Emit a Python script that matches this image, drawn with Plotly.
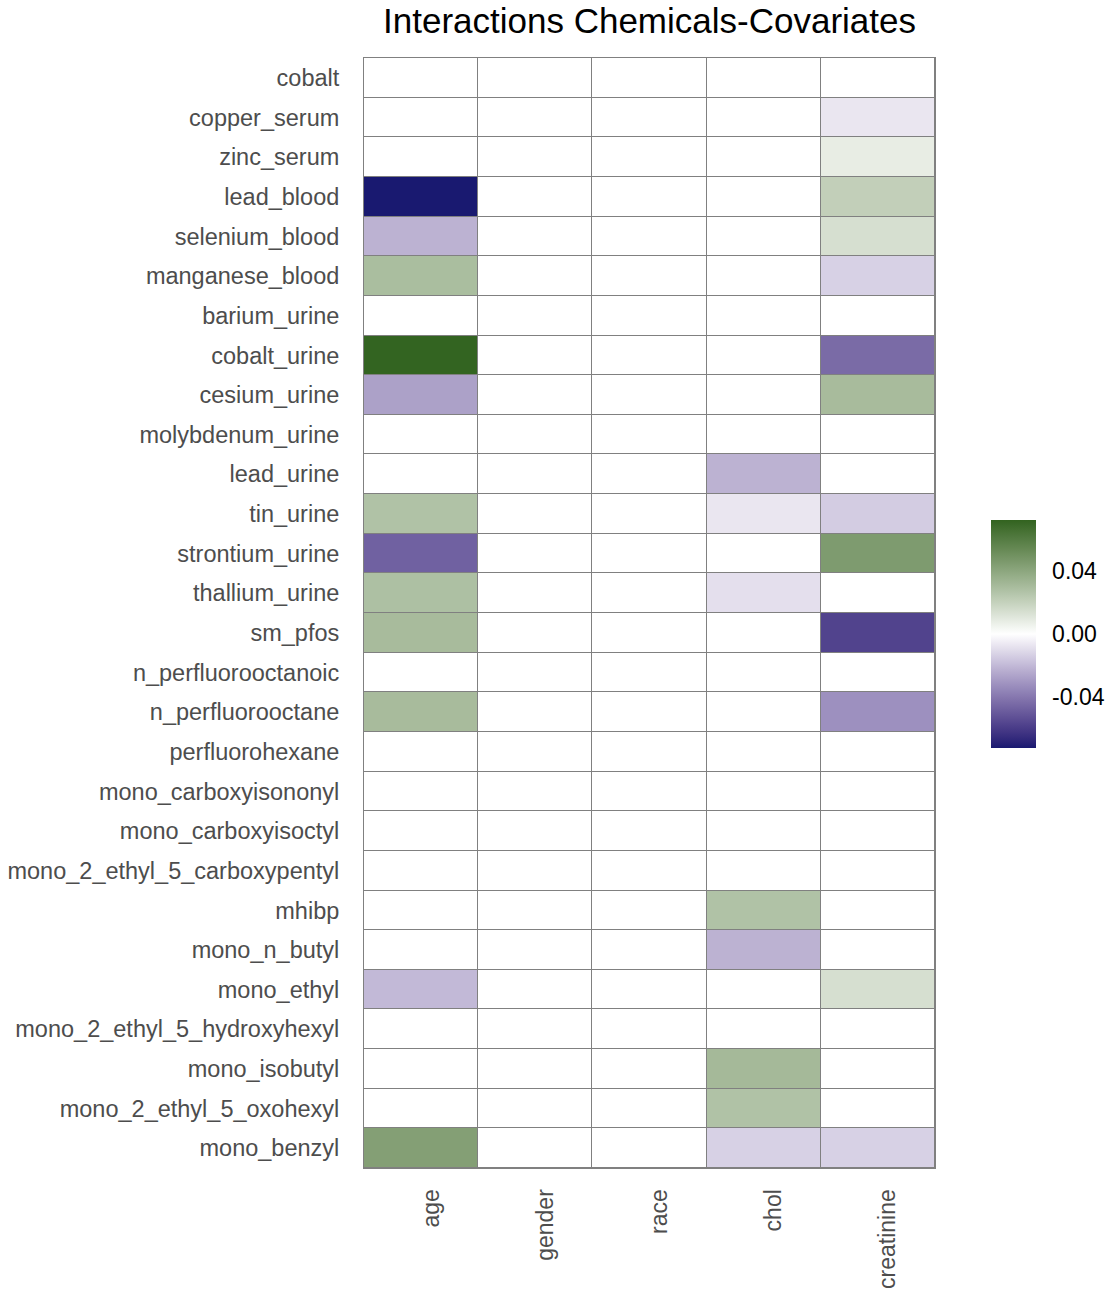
import plotly.graph_objects as go
import numpy as np

chemicals = ["cobalt", "copper_serum", "zinc_serum", "lead_blood", "selenium_blood",
             "manganese_blood", "barium_urine", "cobalt_urine", "cesium_urine",
             "molybdenum_urine", "lead_urine", "tin_urine", "strontium_urine",
             "thallium_urine", "sm_pfos", "n_perfluorooctanoic", "n_perfluorooctane",
             "perfluorohexane", "mono_carboxyisononyl", "mono_carboxyisoctyl",
             "mono_2_ethyl_5_carboxypentyl", "mhibp", "mono_n_butyl", "mono_ethyl",
             "mono_2_ethyl_5_hydroxyhexyl", "mono_isobutyl", "mono_2_ethyl_5_oxohexyl",
             "mono_benzyl"]
covariates = ["age", "gender", "race", "chol", "creatinine"]

age_vals = [0, 0, 0, -0.072, -0.022, 0.029, 0, 0.0715, -0.027, 0, 0, 0.027, -0.047, 0.028,
            0.030, 0, 0.030, 0, 0, 0, 0, 0, 0, -0.020, 0, 0, 0, 0.043]
gender_vals = [0] * 28
race_vals = [0] * 28
chol_vals = [0, 0, 0, 0, 0, 0, 0, 0, 0, 0, -0.022, -0.007, 0, -0.009,
             0, 0, 0, 0, 0, 0, 0, 0.027, -0.022, 0, 0, 0.031, 0.027, -0.013]
creatinine_vals = [0, -0.007, 0.008, 0.021, 0.014, -0.013, 0, -0.044, 0.030, 0, 0, -0.0145,
                   0.045, 0, -0.057, 0, -0.032, 0, 0, 0, 0, 0, 0, 0.014, 0, 0, 0, -0.013]

cols = [age_vals, gender_vals, race_vals, chol_vals, creatinine_vals]
z = [[cols[j][i] for j in range(len(covariates))] for i in range(len(chemicals))]

LOW, MID, HIGH = "#191970", "#ffffff", "#32631f"
ZLIM = 0.072


def hex2rgb(h):
    h = h.lstrip("#")
    return np.array([int(h[i:i + 2], 16) for i in (0, 2, 4)], dtype=float)


WN = np.array([0.95047, 1.0, 1.08883])
M = np.array([[0.4124, 0.3576, 0.1805], [0.2126, 0.7152, 0.0722], [0.0193, 0.1192, 0.9505]])
MI = np.linalg.inv(M)


def rgb2lab(rgb):
    c = rgb / 255.0
    c = np.where(c <= 0.04045, c / 12.92, ((c + 0.055) / 1.055) ** 2.4)
    xyz = M @ c / WN
    f = np.where(xyz > 0.008856, np.cbrt(xyz), 7.787 * xyz + 16 / 116)
    return np.array([116 * f[1] - 16, 500 * (f[0] - f[1]), 200 * (f[1] - f[2])])


def lab2rgb(lab):
    fy = (lab[0] + 16) / 116
    fx = fy + lab[1] / 500
    fz = fy - lab[2] / 200
    f = np.array([fx, fy, fz])
    xyz = np.where(f ** 3 > 0.008856, f ** 3, (f - 16 / 116) / 7.787) * WN
    c = MI @ xyz
    c = np.clip(c, 0, 1)
    c = np.where(c <= 0.0031308, 12.92 * c, 1.055 * c ** (1 / 2.4) - 0.055)
    return np.clip(np.round(c * 255), 0, 255).astype(int)


lab_low, lab_mid, lab_high = rgb2lab(hex2rgb(LOW)), rgb2lab(hex2rgb(MID)), rgb2lab(hex2rgb(HIGH))
colorscale = []
N = 40
for i in range(N + 1):
    p = i / N
    t = 2 * p - 1
    end = lab_high if t >= 0 else lab_low
    lab = lab_mid + abs(t) * (end - lab_mid)
    r, g, b = lab2rgb(lab)
    colorscale.append([p, f"rgb({r},{g},{b})"])

FONT = "Liberation Sans, Arial, sans-serif"

fig = go.Figure(go.Heatmap(
    z=z, x=covariates, y=chemicals,
    colorscale=colorscale, zmin=-ZLIM, zmax=ZLIM,
    xgap=1, ygap=1,
    colorbar=dict(
        thickness=45, len=228, lenmode="pixels",
        x=1.098, xanchor="left", y=0.481, yanchor="middle",
        xpad=0, ypad=0,
        outlinewidth=0,
        tickvals=[-0.04, 0, 0.04], ticktext=["-0.04", "0.00", "0.04"],
        ticks="outside", ticklen=12, tickcolor="rgba(0,0,0,0)",
        tickfont=dict(family=FONT, size=23, color="#000000"),
    ),
))

fig.update_layout(
    width=1120, height=1296,
    margin=dict(l=364, r=185, t=58, b=128, autoexpand=False),
    paper_bgcolor="white", plot_bgcolor="#808080",
    title=dict(text="Interactions Chemicals-Covariates", x=0.5, xref="paper", xanchor="center",
               y=1 - 21 / 1296, yref="container", yanchor="middle",
               font=dict(family=FONT, size=35, color="#000000")),
    font=dict(family=FONT),
)
fig.update_xaxes(tickangle=-90, tickfont=dict(family=FONT, size=23, color="#4d4d4d"),
                 showgrid=False, zeroline=False, ticks="", ticklabelstandoff=11,
                 ticklabelshift=10,
                 showline=True, linecolor="#808080", linewidth=1, mirror=True)
fig.update_yaxes(autorange="reversed", tickfont=dict(family=FONT, size=23.5, color="#4d4d4d"),
                 showgrid=False, zeroline=False, ticks="", ticklabelstandoff=19,
                 showline=True, linecolor="#808080", linewidth=1, mirror=True)

fig.write_html("out.html")
